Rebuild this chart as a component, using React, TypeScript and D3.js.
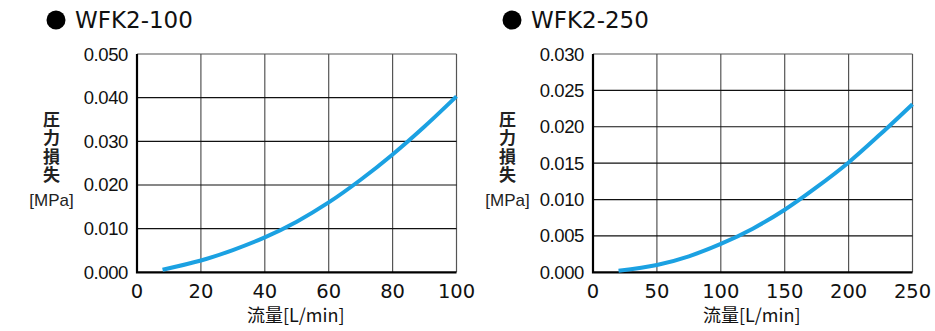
import React, { useEffect, useRef } from "react";
import * as d3 from "d3";

// WFK2-100 pressure loss
const flow100 = [8, 20, 30, 40, 50, 60, 70, 80, 90, 100];
const loss100 = [0.0006, 0.0027, 0.0051, 0.008, 0.0116, 0.016, 0.0212, 0.027, 0.0334, 0.0403];
const xTicks100 = [0, 20, 40, 60, 80, 100];
const yTicks100 = [0, 0.01, 0.02, 0.03, 0.04, 0.05];

// WFK2-250 pressure loss
const flow250 = [20, 50, 75, 100, 125, 150, 175, 200, 225, 250];
const loss250 = [0.0002, 0.001, 0.0022, 0.0039, 0.006, 0.0086, 0.0117, 0.0151, 0.019, 0.0231];
const xTicks250 = [0, 50, 100, 150, 200, 250];
const yTicks250 = [0, 0.005, 0.01, 0.015, 0.02, 0.025, 0.03];

const titles = ["WFK2-100", "WFK2-250"];
const xTitle = "流量[L/min]";
const yTitle = "圧力損失";
const yUnit = "[MPa]";

const LATIN = "'DejaVu Sans', sans-serif";
const CJK = "'Noto Sans CJK JP', sans-serif";

const drawPanel = (svg, left, title, xs, ys, xTicks, yTicks) => {
  const width = 319.5,
    top = 54,
    bottom = 272.3;

  const x = d3.scaleLinear().domain([0, xTicks[xTicks.length - 1]]).range([left, left + width]);
  const y = d3.scaleLinear().domain([0, yTicks[yTicks.length - 1]]).range([bottom, top]);

  // title
  svg.append("circle").attr("cx", left - 81).attr("cy", 20).attr("r", 9.5).attr("fill", "#000");
  svg
    .append("text")
    .attr("x", left - 62)
    .attr("y", 28)
    .style("font-family", LATIN)
    .style("font-size", "23px")
    .attr("fill", "#111")
    .text(title);

  // grid
  svg
    .append("g")
    .selectAll("line")
    .data(xTicks.slice(1))
    .join("line")
    .attr("x1", (d) => x(d))
    .attr("x2", (d) => x(d))
    .attr("y1", top)
    .attr("y2", bottom)
    .attr("stroke", "#555")
    .attr("stroke-width", 1.2);
  svg
    .append("g")
    .selectAll("line")
    .data(yTicks.slice(1))
    .join("line")
    .attr("x1", left)
    .attr("x2", left + width)
    .attr("y1", (d) => y(d))
    .attr("y2", (d) => y(d))
    .attr("stroke", (d, i) => (i === yTicks.length - 2 ? "#555" : "#111"))
    .attr("stroke-width", 1.2);

  // axes
  svg
    .append("path")
    .attr("d", `M${left},${top}V${bottom}H${left + width}`)
    .attr("fill", "none")
    .attr("stroke", "#000")
    .attr("stroke-width", 2.2);

  // tick labels
  svg
    .append("g")
    .selectAll("text")
    .data(yTicks)
    .join("text")
    .attr("x", left - 9)
    .attr("y", (d) => y(d) + 6.5)
    .attr("text-anchor", "end")
    .style("font-family", "'Liberation Sans', sans-serif")
    .style("font-size", "18.5px")
    .style("letter-spacing", "-0.4px")
    .attr("fill", "#111")
    .text((d) => d3.format(".3f")(d));
  svg
    .append("g")
    .selectAll("text")
    .data(xTicks)
    .join("text")
    .attr("x", (d) => x(d))
    .attr("y", 298)
    .attr("text-anchor", "middle")
    .style("font-family", LATIN)
    .style("font-size", "19.5px")
    .attr("fill", "#111")
    .text((d) => d);

  // axis titles
  svg
    .append("text")
    .attr("x", left + width / 2 - 1)
    .attr("y", 322)
    .attr("text-anchor", "middle")
    .style("font-family", CJK)
    .style("font-size", "18px")
    .attr("fill", "#111")
    .text(xTitle);

  const cx = left - 85.5;
  svg
    .append("text")
    .attr("x", cx)
    .attr("y", 111)
    .style("writing-mode", "vertical-rl")
    .style("font-family", CJK)
    .style("font-size", "17px")
    .style("font-weight", "700")
    .style("letter-spacing", "1.3px")
    .attr("fill", "#222")
    .text(yTitle);
  svg
    .append("text")
    .attr("x", cx)
    .attr("y", 206)
    .attr("text-anchor", "middle")
    .style("font-family", "'Liberation Sans Narrow', 'Liberation Sans', sans-serif")
    .style("font-size", "17px")
    .attr("fill", "#222")
    .text(yUnit);

  // curve
  const line = d3
    .line()
    .x((d) => x(d[0]))
    .y((d) => y(d[1]))
    .curve(d3.curveCatmullRom);
  svg
    .append("path")
    .datum(xs.map((v, i) => [v, ys[i]]))
    .attr("fill", "none")
    .attr("stroke", "#1ba1e2")
    .attr("stroke-width", 4)
    .attr("d", line);
};

const App = () => {
  const ref = useRef(null);
  useEffect(() => {
    d3.select(ref.current).selectAll("*").remove();
    const svg = d3.select(ref.current);
    drawPanel(svg, 137, titles[0], flow100, loss100, xTicks100, yTicks100);
    drawPanel(svg, 593, titles[1], flow250, loss250, xTicks250, yTicks250);
  }, []);

  return (
    <svg
      ref={ref}
      width={935}
      height={331}
      style={{ position: "absolute", left: 0, top: 0, background: "#fff" }}
    />
  );
};

export default App;
